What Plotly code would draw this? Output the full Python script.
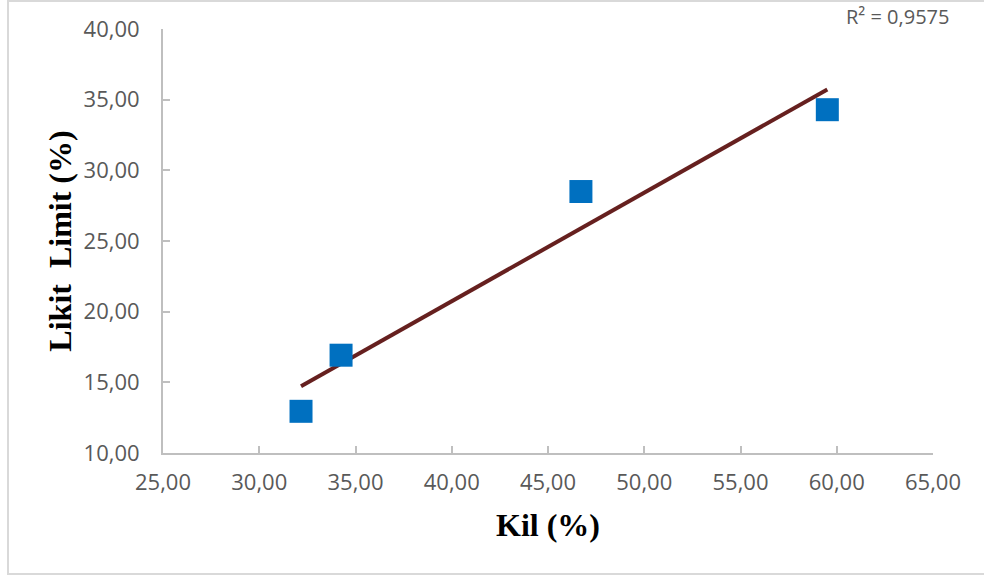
import numpy as np
import plotly.graph_objects as go

kil = [32.17, 34.25, 46.71, 59.51]
likit_limit = [12.95, 16.92, 28.50, 34.29]
x_ticks = [25, 30, 35, 40, 45, 50, 55, 60, 65]
y_ticks = [10, 15, 20, 25, 30, 35, 40]
r2_label = "R² = 0,9575"

def fmt(v):
    return f"{v:.2f}".replace(".", ",")

coef = np.polyfit(kil, likit_limit, 1)
trend_x = [min(kil), max(kil)]
trend_y = [coef[0] * v + coef[1] for v in trend_x]

fig = go.Figure()
fig.add_trace(go.Scatter(x=trend_x, y=trend_y, mode="lines",
                         line=dict(color="#66201F", width=4), showlegend=False))
fig.add_trace(go.Scatter(x=kil, y=likit_limit, mode="markers",
                         marker=dict(symbol="square", size=23, color="#0070C0",
                                     line=dict(width=0)), showlegend=False))

tick_font = dict(family="Open Sans", size=22, color="#595959")
title_font = dict(family="Liberation Serif", size=32, color="#000000")

W, H = 984, 576
L, T, PW, PH = 163, 29, 770, 424

fig.update_layout(
    width=W, height=H,
    margin=dict(l=L, r=W - L - PW, t=T, b=H - T - PH),
    paper_bgcolor="white", plot_bgcolor="white",
    xaxis=dict(range=[25, 65], tickvals=x_ticks, ticktext=[fmt(v) for v in x_ticks],
               showgrid=False, zeroline=False, showline=True, linecolor="#BFBFBF",
               linewidth=2, ticks="inside", ticklen=7, tickcolor="#BFBFBF", tickwidth=2,
               tickfont=tick_font, ticklabelstandoff=9,
               title=dict(text="<b>Kil (%)</b>", font=title_font, standoff=18)),
    yaxis=dict(range=[10, 40], tickvals=y_ticks, ticktext=[fmt(v) for v in y_ticks],
               showgrid=False, zeroline=False, showline=True, linecolor="#BFBFBF",
               linewidth=2, ticks="inside", ticklen=7, tickcolor="#BFBFBF", tickwidth=2,
               tickfont=tick_font, ticklabelstandoff=17,
               title=dict(text="<b>Likit  Limit (%)</b>", font=title_font, standoff=2)),
    annotations=[dict(text=r2_label, xref="paper", yref="paper", x=(951 - L) / PW,
                      y=1 + (T - 17) / PH,
                      xanchor="right", yanchor="middle", showarrow=False,
                      font=dict(family="Open Sans", size=20, color="#595959"))],
    shapes=[dict(type="rect", xref="paper", yref="paper",
                 x0=(8 - L) / PW, x1=(1010 - L) / PW,
                 y0=(T + PH - 574) / PH, y1=(T + PH - 1) / PH,
                 line=dict(color="#D9D9D9", width=2), fillcolor="rgba(0,0,0,0)", layer="below")],
)

fig.write_html("out.html", config={"displayModeBar": False},
               post_script="document.body.style.margin='0px';document.body.style.overflow='hidden';")
